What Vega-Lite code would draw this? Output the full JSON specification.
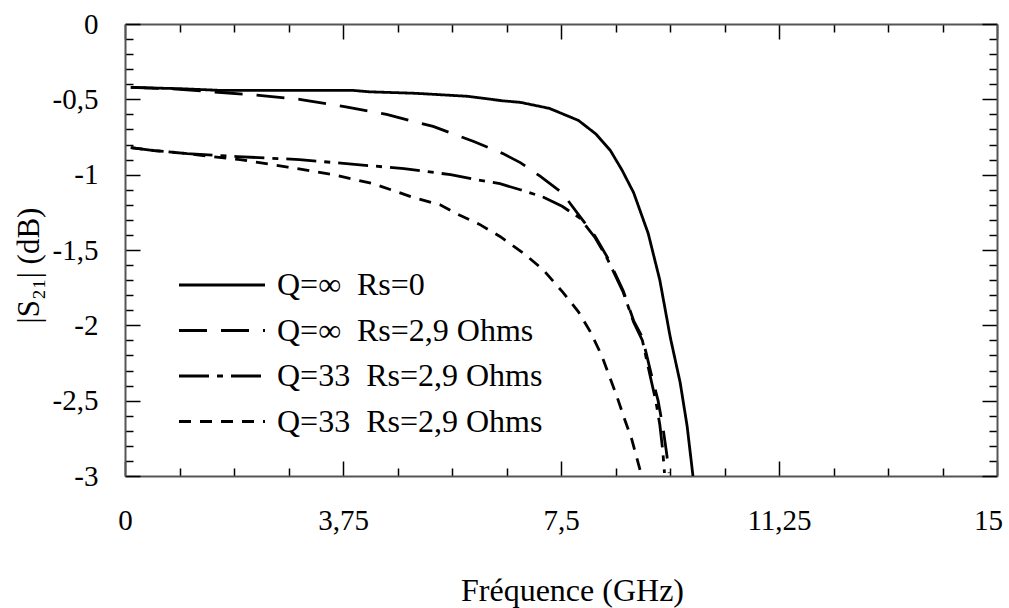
{
  "$schema": "https://vega.github.io/schema/vega-lite/v6.json",
  "width": 872,
  "height": 452,
  "autosize": "none",
  "padding": {"left": 125, "top": 24, "right": 12, "bottom": 132},
  "background": "white",
  "config": {
    "view": {"stroke": null},
    "font": "Liberation Serif",
    "axis": {"labelFont": "Liberation Serif", "titleFont": "Liberation Serif", "labelColor": "black", "titleColor": "black", "titleFontWeight": "normal", "domainColor": "#555", "domainWidth": 2, "tickColor": "black", "tickWidth": 1.5, "grid": false},
    "legend": {"labelFont": "Liberation Serif", "labelColor": "black"}
  },
  "datasets": {
    "curves": [
      {"s": "A", "f": 0.1, "v": -0.42}, {"s": "A", "f": 0.5, "v": -0.425}, {"s": "A", "f": 1.0, "v": -0.43}, {"s": "A", "f": 1.6, "v": -0.44}, {"s": "A", "f": 2.5, "v": -0.44}, {"s": "A", "f": 3.9, "v": -0.44}, {"s": "A", "f": 4.2, "v": -0.45}, {"s": "A", "f": 5.0, "v": -0.46}, {"s": "A", "f": 5.9, "v": -0.48}, {"s": "A", "f": 6.5, "v": -0.51}, {"s": "A", "f": 6.8, "v": -0.52}, {"s": "A", "f": 7.3, "v": -0.56}, {"s": "A", "f": 7.8, "v": -0.64}, {"s": "A", "f": 8.1, "v": -0.73}, {"s": "A", "f": 8.35, "v": -0.84}, {"s": "A", "f": 8.55, "v": -0.97}, {"s": "A", "f": 8.75, "v": -1.12}, {"s": "A", "f": 9.0, "v": -1.39}, {"s": "A", "f": 9.2, "v": -1.7}, {"s": "A", "f": 9.38, "v": -2.08}, {"s": "A", "f": 9.55, "v": -2.38}, {"s": "A", "f": 9.67, "v": -2.67}, {"s": "A", "f": 9.77, "v": -3.0},
      {"s": "B", "f": 0.1, "v": -0.42}, {"s": "B", "f": 0.8, "v": -0.43}, {"s": "B", "f": 1.5, "v": -0.45}, {"s": "B", "f": 2.2, "v": -0.47}, {"s": "B", "f": 3.0, "v": -0.5}, {"s": "B", "f": 3.8, "v": -0.55}, {"s": "B", "f": 4.5, "v": -0.6}, {"s": "B", "f": 5.3, "v": -0.68}, {"s": "B", "f": 6.0, "v": -0.78}, {"s": "B", "f": 6.5, "v": -0.86}, {"s": "B", "f": 6.8, "v": -0.92}, {"s": "B", "f": 7.14, "v": -1.01}, {"s": "B", "f": 7.52, "v": -1.12}, {"s": "B", "f": 7.83, "v": -1.28}, {"s": "B", "f": 8.09, "v": -1.41}, {"s": "B", "f": 8.3, "v": -1.55}, {"s": "B", "f": 8.57, "v": -1.77}, {"s": "B", "f": 8.75, "v": -1.97}, {"s": "B", "f": 8.9, "v": -2.08}, {"s": "B", "f": 9.05, "v": -2.32}, {"s": "B", "f": 9.17, "v": -2.5}, {"s": "B", "f": 9.25, "v": -2.67}, {"s": "B", "f": 9.31, "v": -2.83}, {"s": "B", "f": 9.36, "v": -2.98},
      {"s": "C", "f": 0.1, "v": -0.82}, {"s": "C", "f": 0.5, "v": -0.84}, {"s": "C", "f": 1.07, "v": -0.86}, {"s": "C", "f": 1.93, "v": -0.88}, {"s": "C", "f": 3.0, "v": -0.9}, {"s": "C", "f": 3.9, "v": -0.93}, {"s": "C", "f": 4.8, "v": -0.96}, {"s": "C", "f": 5.6, "v": -1.0}, {"s": "C", "f": 6.0, "v": -1.03}, {"s": "C", "f": 6.45, "v": -1.06}, {"s": "C", "f": 6.8, "v": -1.1}, {"s": "C", "f": 7.2, "v": -1.15}, {"s": "C", "f": 7.52, "v": -1.21}, {"s": "C", "f": 7.83, "v": -1.29}, {"s": "C", "f": 8.09, "v": -1.42}, {"s": "C", "f": 8.3, "v": -1.56}, {"s": "C", "f": 8.57, "v": -1.78}, {"s": "C", "f": 8.75, "v": -1.98}, {"s": "C", "f": 8.9, "v": -2.1}, {"s": "C", "f": 9.03, "v": -2.33}, {"s": "C", "f": 9.13, "v": -2.5}, {"s": "C", "f": 9.2, "v": -2.66}, {"s": "C", "f": 9.25, "v": -2.83}, {"s": "C", "f": 9.28, "v": -2.98},
      {"s": "D", "f": 0.1, "v": -0.82}, {"s": "D", "f": 0.5, "v": -0.84}, {"s": "D", "f": 1.07, "v": -0.86}, {"s": "D", "f": 1.5, "v": -0.88}, {"s": "D", "f": 1.98, "v": -0.9}, {"s": "D", "f": 2.8, "v": -0.95}, {"s": "D", "f": 3.58, "v": -1.0}, {"s": "D", "f": 4.27, "v": -1.06}, {"s": "D", "f": 4.95, "v": -1.15}, {"s": "D", "f": 5.42, "v": -1.2}, {"s": "D", "f": 5.76, "v": -1.27}, {"s": "D", "f": 6.1, "v": -1.33}, {"s": "D", "f": 6.45, "v": -1.41}, {"s": "D", "f": 6.85, "v": -1.52}, {"s": "D", "f": 7.19, "v": -1.63}, {"s": "D", "f": 7.53, "v": -1.78}, {"s": "D", "f": 7.8, "v": -1.91}, {"s": "D", "f": 8.0, "v": -2.04}, {"s": "D", "f": 8.2, "v": -2.2}, {"s": "D", "f": 8.46, "v": -2.47}, {"s": "D", "f": 8.6, "v": -2.63}, {"s": "D", "f": 8.72, "v": -2.76}, {"s": "D", "f": 8.86, "v": -2.96}
    ]
  },
  "data": {"name": "curves"},
  "resolve": {"axis": {"x": "independent", "y": "independent"}},
  "layer": [
    {
      "mark": {"type": "line", "color": "black", "strokeWidth": 2.8, "clip": true},
      "encoding": {
        "x": {"field": "f", "type": "quantitative", "scale": {"domain": [0, 15], "nice": false, "zero": false},
          "axis": {"orient": "bottom", "title": "Fréquence (GHz)", "titleFontSize": 32, "titleX": 447, "titleY": 124, "titleBaseline": "alphabetic",
            "values": [0, 0.9375, 1.875, 2.8125, 3.75, 4.6875, 5.625, 6.5625, 7.5, 8.4375, 9.375, 10.3125, 11.25, 12.1875, 13.125, 14.0625, 15],
            "labelExpr": "datum.value % 3.75 === 0 ? replace(toString(datum.value), '.', ',') : ''",
            "labelFontSize": 29, "labelPadding": 45, "labelFlush": false, "labelOverlap": false,
            "labelOffset": {"condition": {"test": "datum.value === 15", "value": -9}, "value": 0},
            "tickSize": {"condition": {"test": "datum.value % 3.75 === 0", "value": -15}, "value": -8}}},
        "y": {"field": "v", "type": "quantitative", "scale": {"domain": [-3, 0], "nice": false, "zero": false},
          "axis": {"orient": "left", "title": "|S₂₁| (dB)", "titleFontSize": 31, "titleX": -80, "titleY": 241,
            "values": [-3, -2.9, -2.8, -2.7, -2.6, -2.5, -2.4, -2.3, -2.2, -2.1, -2, -1.9, -1.8, -1.7, -1.6, -1.5, -1.4, -1.3, -1.2, -1.1, -1, -0.9, -0.8, -0.7, -0.6, -0.5, -0.4, -0.3, -0.2, -0.1, 0],
            "labelExpr": "abs(datum.value * 2 - round(datum.value * 2)) < 0.001 ? replace(toString(datum.value), '.', ',') : ''",
            "labelFontSize": 29, "labelPadding": 42, "labelFlush": false, "labelOverlap": false,
            "tickSize": {"condition": {"test": "abs(datum.value * 2 - round(datum.value * 2)) < 0.001", "value": -15}, "value": -8}}},
        "strokeDash": {"field": "s", "type": "nominal",
          "scale": {"domain": ["A", "B", "C", "D"], "range": [[1, 0], [28, 14], [30, 8, 6, 8], [12, 9]]},
          "legend": {"orient": "none", "legendX": 52, "legendY": 246, "title": null, "padding": 0,
            "symbolType": "stroke", "symbolSize": 7400, "symbolStrokeWidth": 3, "symbolStrokeColor": "black",
            "clipHeight": 30, "rowPadding": 13.5, "labelOffset": 10, "labelFontSize": 32, "labelLimit": 500,
            "labelExpr": "datum.value === 'A' ? 'Q=∞\u00a0 Rs=0' : datum.value === 'B' ? 'Q=∞\u00a0 Rs=2,9 Ohms' : 'Q=33\u00a0 Rs=2,9 Ohms'"}}
      }
    },
    {
      "mark": {"type": "point", "opacity": 0},
      "encoding": {
        "x": {"field": "f", "type": "quantitative", "scale": {"domain": [0, 15], "nice": false, "zero": false},
          "axis": {"orient": "top", "title": null, "labels": false,
            "values": [0, 0.9375, 1.875, 2.8125, 3.75, 4.6875, 5.625, 6.5625, 7.5, 8.4375, 9.375, 10.3125, 11.25, 12.1875, 13.125, 14.0625, 15],
            "tickSize": {"condition": {"test": "datum.value % 3.75 === 0", "value": -15}, "value": -8}}},
        "y": {"field": "v", "type": "quantitative", "scale": {"domain": [-3, 0], "nice": false, "zero": false},
          "axis": {"orient": "right", "title": null, "labels": false,
            "values": [-3, -2.9, -2.8, -2.7, -2.6, -2.5, -2.4, -2.3, -2.2, -2.1, -2, -1.9, -1.8, -1.7, -1.6, -1.5, -1.4, -1.3, -1.2, -1.1, -1, -0.9, -0.8, -0.7, -0.6, -0.5, -0.4, -0.3, -0.2, -0.1, 0],
            "tickSize": {"condition": {"test": "abs(datum.value * 2 - round(datum.value * 2)) < 0.001", "value": -15}, "value": -8}}}
      }
    }
  ]
}
